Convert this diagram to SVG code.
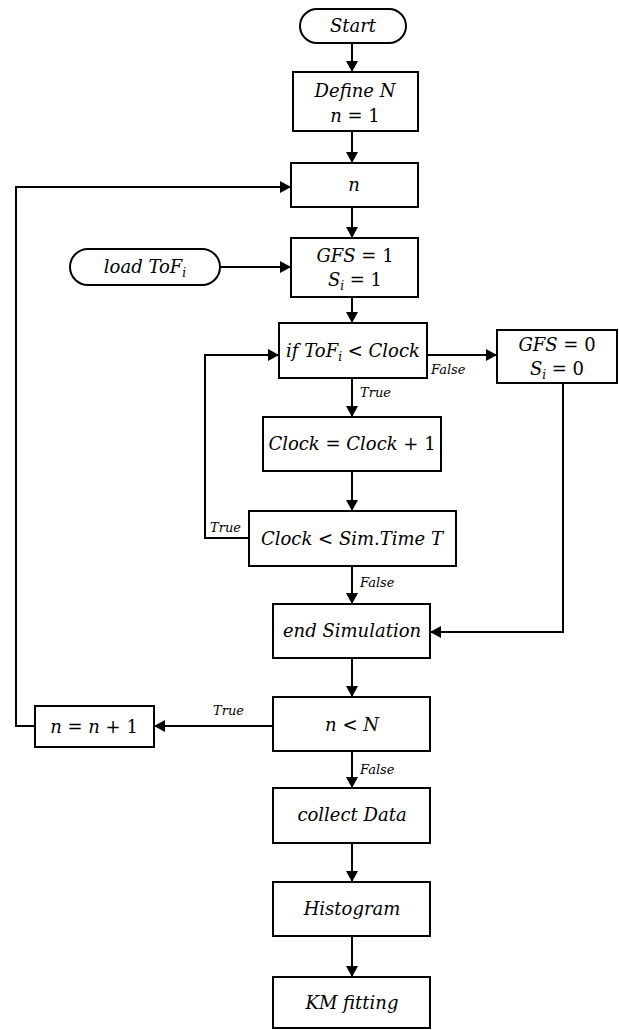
<svg xmlns="http://www.w3.org/2000/svg" width="619" height="1030" viewBox="0 0 619 1030">
  <defs>
    <marker id="arrow" markerUnits="userSpaceOnUse" markerWidth="12" markerHeight="12" refX="11" refY="6" orient="auto">
      <path d="M0,0 L11,6 L0,12 z" fill="#000"/>
    </marker>
    <style>
      .box { fill: #fff; stroke: #000; stroke-width: 2; }
      .line { fill: none; stroke: #000; stroke-width: 2; }
      .arr { marker-end: url(#arrow); }
      .t { font-family: "DejaVu Serif", "Liberation Serif", serif; font-style: italic; font-size: 18px; text-anchor: middle; fill: #000; }
      .lbl { font-family: "DejaVu Serif", "Liberation Serif", serif; font-style: italic; font-size: 13px; fill: #000; }
      .u { font-style: normal; }
      .sub { font-size: 12px; }
    </style>
  </defs>

  <!-- connectors -->
  <g id="connectors">
    <line class="line arr" x1="352" y1="43" x2="352" y2="72"/>
    <line class="line arr" x1="352" y1="131" x2="352" y2="163"/>
    <line class="line arr" x1="352" y1="207" x2="352" y2="238"/>
    <line class="line arr" x1="220" y1="267" x2="291" y2="267"/>
    <line class="line arr" x1="352" y1="297" x2="352" y2="323"/>
    <line class="line arr" x1="427" y1="355" x2="497" y2="355"/>
    <line class="line arr" x1="352" y1="378" x2="352" y2="417"/>
    <line class="line arr" x1="352" y1="471" x2="352" y2="511"/>
    <polyline class="line arr" points="249,538 205,538 205,355 279,355"/>
    <line class="line arr" x1="352" y1="566" x2="352" y2="604"/>
    <polyline class="line arr" points="563,383 563,632 430,632"/>
    <line class="line arr" x1="352" y1="658" x2="352" y2="697"/>
    <line class="line arr" x1="273" y1="726" x2="154" y2="726"/>
    <polyline class="line arr" points="35,726 16,726 16,187 291,187"/>
    <line class="line arr" x1="352" y1="751" x2="352" y2="788"/>
    <line class="line arr" x1="352" y1="843" x2="352" y2="882"/>
    <line class="line arr" x1="352" y1="936" x2="352" y2="977"/>
    <text class="lbl" x="431" y="374">False</text>
    <text class="lbl" x="360" y="397">True</text>
    <text class="lbl" x="210" y="532">True</text>
    <text class="lbl" x="360" y="587">False</text>
    <text class="lbl" x="213" y="715">True</text>
    <text class="lbl" x="360" y="774">False</text>
  </g>

  <g id="start">
    <rect class="box" x="300" y="9" width="106" height="34" rx="17"/>
    <text class="t" x="353" y="32">Start</text>
  </g>

  <g id="define">
    <rect class="box" x="293" y="72" width="125" height="59"/>
    <text class="t" x="355" y="97">Define N</text>
    <text class="t" x="355" y="122">n <tspan class="u">= 1</tspan></text>
  </g>

  <g id="counter">
    <rect class="box" x="291" y="163" width="127" height="44"/>
    <text class="t" x="354" y="191">n</text>
  </g>

  <g id="init">
    <rect class="box" x="291" y="238" width="127" height="59"/>
    <text class="t" x="355" y="262">GFS <tspan class="u">= 1</tspan></text>
    <text class="t" x="355" y="286">S<tspan class="sub" dy="4">i</tspan><tspan class="u" dy="-4"> = 1</tspan></text>
  </g>

  <g id="load">
    <rect class="box" x="70" y="249" width="150" height="36" rx="18"/>
    <text class="t" x="145" y="273">load ToF<tspan class="sub" dy="4">i</tspan></text>
  </g>

  <g id="check">
    <rect class="box" x="279" y="323" width="148" height="55"/>
    <text class="t" x="353" y="357">if ToF<tspan class="sub" dy="4">i</tspan><tspan class="u" dy="-4"> &lt; </tspan>Clock</text>
  </g>

  <g id="fail">
    <rect class="box" x="497" y="330" width="120" height="53"/>
    <text class="t" x="557" y="351">GFS <tspan class="u">= 0</tspan></text>
    <text class="t" x="557" y="375">S<tspan class="sub" dy="4">i</tspan><tspan class="u" dy="-4"> = 0</tspan></text>
  </g>

  <g id="tick">
    <rect class="box" x="263" y="417" width="178" height="54"/>
    <text class="t" x="352" y="450">Clock <tspan class="u">= </tspan>Clock <tspan class="u">+ 1</tspan></text>
  </g>

  <g id="timecheck">
    <rect class="box" x="249" y="511" width="207" height="55"/>
    <text class="t" x="352" y="545">Clock <tspan class="u">&lt; </tspan>Sim<tspan class="u">.</tspan>Time T</text>
  </g>

  <g id="endsim">
    <rect class="box" x="273" y="604" width="157" height="54"/>
    <text class="t" x="352" y="637">end Simulation</text>
  </g>

  <g id="loopcheck">
    <rect class="box" x="273" y="697" width="157" height="54"/>
    <text class="t" x="352" y="731">n <tspan class="u">&lt; </tspan>N</text>
  </g>

  <g id="increment">
    <rect class="box" x="35" y="706" width="119" height="41"/>
    <text class="t" x="94" y="733">n <tspan class="u">= </tspan>n <tspan class="u">+ 1</tspan></text>
  </g>

  <g id="collect">
    <rect class="box" x="273" y="788" width="157" height="55"/>
    <text class="t" x="352" y="821">collect Data</text>
  </g>

  <g id="histogram">
    <rect class="box" x="273" y="882" width="157" height="54"/>
    <text class="t" x="352" y="915">Histogram</text>
  </g>

  <g id="kmfit">
    <rect class="box" x="273" y="977" width="157" height="51"/>
    <text class="t" x="352" y="1009">KM fitting</text>
  </g>
</svg>
